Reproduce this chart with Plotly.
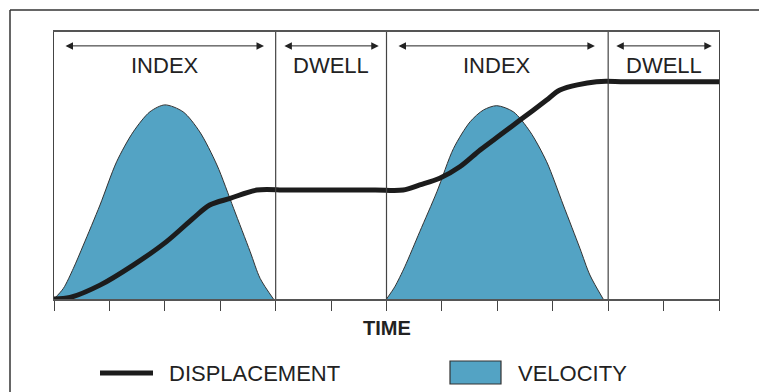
import plotly.graph_objects as go

# ---- data ----
time_ticks = list(range(0, 13))
dividers = [4, 6, 10]
segments = [(0, 4, "INDEX"), (4, 6, "DWELL"), (6, 10, "INDEX"), (10, 12, "DWELL")]
arrow_start = [0.18, 4.13, 6.19, 10.12]
arrow_end = [3.79, 5.86, 9.76, 11.87]

vel1_t = [0.0, 0.17, 0.35, 0.53, 0.83, 1.13, 1.43, 1.73, 2.0, 2.33, 2.63, 2.94, 3.24, 3.54, 3.72, 3.96]
vel1_v = [0.0, 4.0, 11.5, 20.2, 35.2, 51.4, 62.6, 70.1, 72.7, 70.1, 62.6, 50.2, 34.0, 17.7, 7.7, 0.0]
vel2_t = [6.0, 6.15, 6.33, 6.60, 6.91, 7.21, 7.51, 7.75, 7.99, 8.29, 8.59, 8.89, 9.19, 9.49, 9.67, 9.91]
vel2_v = [0.0, 4.6, 12.1, 25.2, 40.2, 56.4, 66.4, 70.8, 72.4, 70.1, 62.7, 51.4, 35.2, 19.0, 9.0, 0.0]

disp_t = [0.0, 0.29, 0.83, 1.43, 2.03, 2.51, 2.81, 3.18, 3.66, 4.2, 5.0, 5.8, 6.30, 6.60, 6.96, 7.33,
          7.69, 8.05, 8.41, 8.89, 9.13, 9.79, 10.3, 11.2, 12.0]
disp_y = [0.0, 0.6, 5.2, 12.7, 21.5, 30.2, 35.2, 37.7, 40.8, 40.8, 40.8, 40.8, 40.8, 42.7, 45.2, 49.6,
          55.8, 61.4, 67.0, 74.5, 78.3, 81.4, 81.4, 81.4, 81.4]

VEL_COLOR = "#53A3C4"
TXT = "#222222"
FONT = "Liberation Sans, Arial, sans-serif"

fig = go.Figure()
for t, v in [(vel1_t, vel1_v), (vel2_t, vel2_v)]:
    fig.add_trace(go.Scatter(x=t, y=v, mode="lines", fill="tozeroy",
                             fillcolor=VEL_COLOR,
                             line=dict(color="#333333", width=1, shape="spline", smoothing=0.8),
                             showlegend=False, hoverinfo="skip"))
fig.add_trace(go.Scatter(x=disp_t, y=disp_y, mode="lines",
                         line=dict(color="#1c1c1c", width=5, shape="spline", smoothing=0.9),
                         showlegend=False, hoverinfo="skip"))

# page has an 8px body margin: figure sits at (8, 8) of the window
OFF = 8
L, R, T, B = 54, 719, 32, 299          # plot area in window px
W, H = 767 - OFF, 392 - OFF            # figure size
def px(x):
    return (x - L) / (R - L)
def py(y):
    return (B - y) / (B - T)

shapes = []
for d in dividers:
    shapes.append(dict(type="line", xref="x", yref="paper", x0=d, x1=d, y0=0, y1=1,
                       line=dict(color="#444444", width=1.2)))
# outer frame (left and top)
shapes.append(dict(type="line", xref="paper", yref="paper", x0=px(10), x1=px(10),
                   y0=py(10), y1=py(400), line=dict(color="#333333", width=1.5)))
shapes.append(dict(type="line", xref="paper", yref="paper", x0=px(10), x1=px(775),
                   y0=py(10), y1=py(10), line=dict(color="#333333", width=1.5)))
# legend marks
shapes.append(dict(type="line", xref="paper", yref="paper", x0=px(100), x1=px(153),
                   y0=py(373), y1=py(373), line=dict(color="#1c1c1c", width=5)))
shapes.append(dict(type="rect", xref="paper", yref="paper", x0=px(450), x1=px(501),
                   y0=py(384), y1=py(361), fillcolor=VEL_COLOR,
                   line=dict(color="#333333", width=1.2)))

annotations = []
arrow_y = 94.8
for (a, b, lab), s, e in zip(segments, arrow_start, arrow_end):
    annotations.append(dict(x=(a + b) / 2, y=87.4, xref="x", yref="y", text=lab,
                            showarrow=False, font=dict(family=FONT, size=22, color=TXT),
                            xanchor="center", yanchor="middle"))
    annotations.append(dict(x=e, y=arrow_y, ax=s, ay=arrow_y, xref="x", yref="y",
                            axref="x", ayref="y", text="", showarrow=True,
                            arrowhead=2, startarrowhead=2, arrowside="end+start",
                            arrowsize=1.5, startarrowsize=1.5, arrowwidth=1,
                            arrowcolor="#222222", standoff=0, startstandoff=0))
annotations.append(dict(x=6, y=py(328), xref="x", yref="paper", text="<b>TIME</b>",
                        showarrow=False, font=dict(family=FONT, size=20, color=TXT),
                        xanchor="center", yanchor="middle"))
annotations.append(dict(x=px(167), y=py(373), xref="paper", yref="paper", text="DISPLACEMENT",
                        showarrow=False, font=dict(family=FONT, size=22, color=TXT),
                        xanchor="left", yanchor="middle"))
annotations.append(dict(x=px(516), y=py(373), xref="paper", yref="paper", text="VELOCITY",
                        showarrow=False, font=dict(family=FONT, size=22, color=TXT),
                        xanchor="left", yanchor="middle"))

fig.update_layout(
    width=W, height=H,
    margin=dict(l=L - OFF, r=W - (R - OFF), t=T - OFF, b=H - (B - OFF), pad=0),
    paper_bgcolor="white", plot_bgcolor="white",
    shapes=shapes, annotations=annotations,
    showlegend=False,
    xaxis=dict(range=[0, 12], tickvals=time_ticks, ticks="outside", ticklen=10,
               tickcolor="#444444", tickwidth=1.2, showticklabels=False,
               showgrid=False, zeroline=False, showline=True, linecolor="#555555",
               linewidth=1.5, mirror=True, fixedrange=True),
    yaxis=dict(range=[0, 100], showticklabels=False, ticks="", showgrid=False,
               zeroline=False, showline=True, linecolor="#444444", linewidth=1.2,
               mirror=True, fixedrange=True),
)

fig.write_html("out.html")
